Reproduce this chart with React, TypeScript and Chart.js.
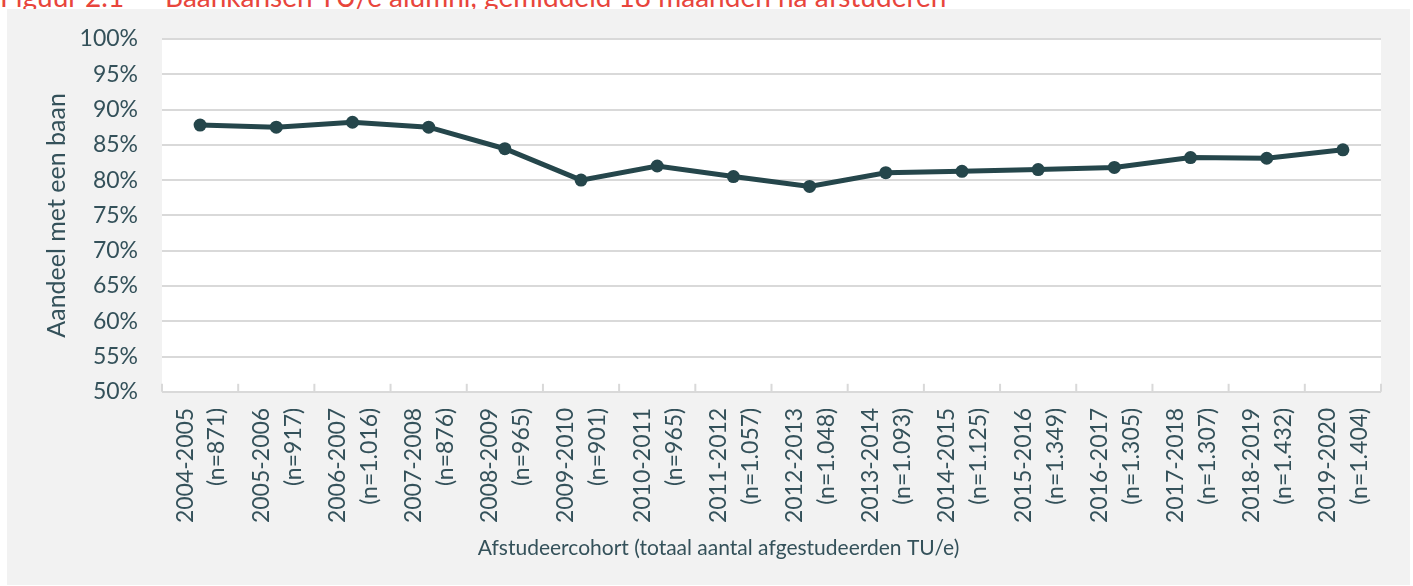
import React, { useEffect, useRef } from "react";
import { Chart, registerables } from "chart.js";

Chart.register(...registerables);

const cohorts = [
  "2004-2005", "2005-2006", "2006-2007", "2007-2008", "2008-2009", "2009-2010",
  "2010-2011", "2011-2012", "2012-2013", "2013-2014", "2014-2015", "2015-2016",
  "2016-2017", "2017-2018", "2018-2019", "2019-2020",
];
const counts = [
  "871", "917", "1.016", "876", "965", "901", "965", "1.057", "1.048", "1.093",
  "1.125", "1.349", "1.305", "1.307", "1.432", "1.404",
];
const shareWithJob = [
  87.8, 87.5, 88.2, 87.5, 84.45, 80.0, 82.0, 80.5, 79.1, 81.05, 81.25, 81.5, 81.8,
  83.2, 83.1, 84.3,
];

const FONT = "Lato, 'Noto Sans', sans-serif";
const WEIGHT = "normal";
const TEXT = "#34515a";
const LINE = "#25464b";
const GRID = "#d9d9d9";

const bgPlugin = {
  id: "plotBg",
  beforeDraw(chart: any) {
    const { ctx, chartArea: a } = chart;
    ctx.save();
    ctx.fillStyle = "#ffffff";
    ctx.fillRect(a.left, a.top, a.right - a.left, a.bottom - a.top);
    ctx.restore();
  },
};

const tickMarksPlugin = {
  id: "catTicks",
  afterDraw(chart: any) {
    const { ctx, chartArea: a } = chart;
    const xs = chart.scales.x;
    const n = xs.getLabels().length;
    const step = xs.getPixelForValue(1) - xs.getPixelForValue(0);
    ctx.save();
    ctx.strokeStyle = GRID;
    ctx.lineWidth = 2;
    for (let i = 0; i <= n; i++) {
      const px = xs.getPixelForValue(0) - step / 2 + i * step;
      ctx.beginPath();
      ctx.moveTo(px, a.bottom);
      ctx.lineTo(px, a.bottom - 8);
      ctx.stroke();
    }
    ctx.restore();
  },
};

export default function App() {
  const ref = useRef<HTMLCanvasElement>(null);

  useEffect(() => {
    if (!ref.current) return;
    const labels = cohorts.map((c, i) => [c, `(n=${counts[i]})`]);
    const chart = new Chart(ref.current, {
      type: "line",
      data: {
        labels,
        datasets: [
          {
            data: shareWithJob,
            borderColor: LINE,
            backgroundColor: LINE,
            borderWidth: 5,
            pointRadius: 6.5,
            pointHoverRadius: 6.5,
            pointBackgroundColor: LINE,
            pointBorderWidth: 0,
            tension: 0,
          },
        ],
      },
      options: {
        responsive: false,
        animation: false,
        layout: { padding: { left: 20, right: 0, top: 30, bottom: 0 } },
        plugins: {
          legend: { display: false },
          tooltip: { enabled: false },
          title: {
            display: true,
            position: "bottom",
            text: "Afstudeercohort (totaal aantal afgestudeerden TU/e)",
            color: TEXT,
            font: { family: FONT, size: 21, weight: WEIGHT, lineHeight: 1.2 },
            padding: { top: 0, bottom: 24 },
          },
        },
        scales: {
          x: {
            grid: { display: false, drawTicks: false },
            border: { display: false },
            offset: true,
            ticks: {
              color: TEXT,
              font: { family: FONT, size: 23, weight: WEIGHT, lineHeight: 1.39 },
              minRotation: 90,
              maxRotation: 90,
              autoSkip: false,
              padding: 16,
              labelOffset: -15,
            },
            afterFit(scale: any) {
              scale.height = 144;
              scale.paddingRight = 29;
            },
          },
          y: {
            min: 50,
            max: 100,
            grid: { color: GRID, lineWidth: 2, drawTicks: false },
            border: { display: false },
            ticks: {
              stepSize: 5,
              color: TEXT,
              font: { family: FONT, size: 23, weight: WEIGHT },
              padding: 24,
              callback: (v: any) => `${v}%`,
            },
            title: {
              display: true,
              text: "Aandeel met een baan",
              color: TEXT,
              font: { family: FONT, size: 25, weight: WEIGHT, lineHeight: 1.2 },
              padding: { top: 15, bottom: 0 },
            },
            afterFit(scale: any) {
              scale.width = 135;
              scale.paddingTop = 0;
              scale.paddingBottom = 0;
            },
          },
        },
      },
      plugins: [bgPlugin, tickMarksPlugin],
    });
    return () => chart.destroy();
  }, []);

  return (
    <div style={{ position: "fixed", left: 0, top: 0, width: 1413, height: 586, background: "#ffffff", overflow: "hidden" }}>
      <div style={{ position: "absolute", left: 0, top: 0, width: 1413, height: 9, overflow: "hidden", color: "#e8453c", fontFamily: FONT, fontSize: 28, lineHeight: "28px" }}>
        <span style={{ position: "absolute", left: 0, top: -18, whiteSpace: "nowrap" }}>Figuur 2.1</span>
        <span style={{ position: "absolute", left: 165, top: -18, whiteSpace: "nowrap" }}>
          Baankansen TU/e alumni, gemiddeld 18 maanden na afstuderen
        </span>
      </div>
      <div style={{ position: "absolute", left: 7, top: 9, width: 1403, height: 576, background: "#f2f2f2" }}>
        <canvas ref={ref} width={1403} height={576} style={{ display: "block" }} />
      </div>
    </div>
  );
}
